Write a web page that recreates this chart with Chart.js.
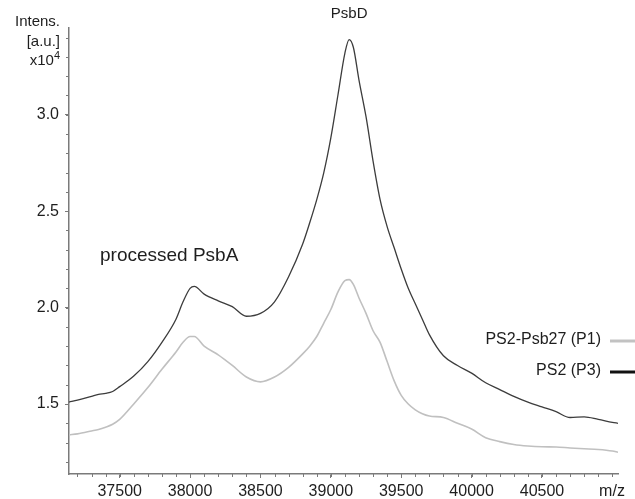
<!DOCTYPE html>
<html>
<head>
<meta charset="utf-8">
<script src="https://cdn.jsdelivr.net/npm/chart.js@4"></script>
<style>
html, body { margin:0; padding:0; background:#fff; }
canvas { display:block; }
</style>
</head>
<body>
<canvas id="spectrum" width="635" height="499"></canvas>
<script>

// m/z positions shared by both traces
let mzValues = [
37140, 37200, 37300, 37350, 37400, 37450, 37500, 37600, 37700, 37800,
37900, 37950, 38000, 38030, 38100, 38200, 38300, 38400, 38500, 38600,
38700, 38800, 38850, 38900, 38950, 39000, 39050, 39100, 39130, 39160,
39200, 39250, 39300, 39350, 39400, 39450, 39500, 39550, 39600, 39650,
39700, 39800, 39900, 40000, 40100, 40200, 40300, 40400, 40500, 40600,
40700, 40800, 40900, 41000, 41040
];

// PS2 (P3), dark trace, intensity x10^4
let ps2Values = [
1.51, 1.52, 1.54, 1.55, 1.555, 1.565, 1.59, 1.645, 1.72, 1.82,
1.94, 2.03, 2.10, 2.11, 2.07, 2.035, 2.005, 1.955, 1.97, 2.03,
2.16, 2.33, 2.44, 2.56, 2.70, 2.88, 3.10, 3.32, 3.39, 3.35,
3.18, 2.99, 2.76, 2.56, 2.42, 2.31, 2.20, 2.10, 2.02, 1.94,
1.86, 1.75, 1.70, 1.66, 1.61, 1.575, 1.54, 1.51, 1.485, 1.46,
1.43, 1.433, 1.42, 1.405, 1.40
];

// PS2-Psb27 (P1), light trace
let psb27Values = [
1.34, 1.345, 1.36, 1.368, 1.38, 1.395, 1.42, 1.50, 1.585, 1.68,
1.77, 1.82, 1.85, 1.85, 1.80, 1.755, 1.70, 1.64, 1.615, 1.64,
1.69, 1.76, 1.80, 1.85, 1.92, 1.99, 2.08, 2.14, 2.145, 2.12,
2.05, 1.97, 1.88, 1.82, 1.72, 1.62, 1.545, 1.50, 1.47, 1.45,
1.438, 1.43, 1.40, 1.37, 1.325, 1.305, 1.29, 1.282, 1.278, 1.277,
1.272, 1.268, 1.264, 1.256, 1.25
];

let xTickValues = [37500, 38000, 38500, 39000, 39500, 40000, 40500];
let yTickValues = [1.5, 2.0, 2.5, 3.0];

let seriesNames = ["PS2-Psb27 (P1)", "PS2 (P3)"];

let FONT = "'Liberation Sans', Arial, sans-serif";

function toPoints(values){

    let points = [];

    values.forEach((v, i) => {
        points.push({ x: mzValues[i], y: v });
    });

    return points;
}

// minor ticks, axis captions, labels and the right side legend
let decorPlugin = {

    id: "decor",

    afterDraw(chart){

        let ctx = chart.ctx;
        let xs = chart.scales.x;
        let ys = chart.scales.y;
        let area = chart.chartArea;

        ctx.save();

        // minor ticks
        ctx.strokeStyle = "#7a7a7a";
        ctx.lineWidth = 1;
        ctx.beginPath();

        for(let m = 37200; m <= 41000; m += 100){
            let px = Math.round(xs.getPixelForValue(m)) + 0.5;
            ctx.moveTo(px, area.bottom);
            ctx.lineTo(px, area.bottom + 3);
        }

        for(let k = 12; k <= 34; k++){
            let py = Math.round(ys.getPixelForValue(k / 10)) + 0.5;
            ctx.moveTo(area.left, py);
            ctx.lineTo(area.left - 3, py);
        }

        ctx.stroke();

        ctx.fillStyle = "#1e1e1e";
        ctx.textBaseline = "middle";

        // y axis caption
        ctx.font = "15px " + FONT;
        ctx.textAlign = "right";
        ctx.fillText("Intens.", 60, 22);
        ctx.fillText("[a.u.]", 60, 42);

        ctx.font = "11px " + FONT;
        ctx.fillText("4", 60, 56);
        let supW = ctx.measureText("4").width;
        ctx.font = "15px " + FONT;
        ctx.fillText("x10", 60 - supW, 61);

        // x axis caption
        ctx.font = "16px " + FONT;
        ctx.textAlign = "center";
        ctx.fillText("m/z", 612, 492);

        // peak labels
        ctx.font = "15px " + FONT;
        ctx.fillText("PsbD", xs.getPixelForValue(39130), 14);

        ctx.font = "19px " + FONT;
        ctx.textAlign = "left";
        ctx.fillText("processed PsbA", 100, 256);

        // legend
        let legendRows = [
            { y: 340, color: "#c2c2c2" },
            { y: 371, color: "#111111" }
        ];

        ctx.font = "16px " + FONT;
        ctx.textAlign = "right";

        legendRows.forEach((row, i) => {

            ctx.fillStyle = "#1e1e1e";
            ctx.fillText(seriesNames[i], 601, row.y);

            ctx.strokeStyle = row.color;
            ctx.lineWidth = 3;
            ctx.beginPath();
            ctx.moveTo(610, row.y + 1);
            ctx.lineTo(635, row.y + 1);
            ctx.stroke();

        });

        ctx.restore();
    }
};

new Chart(

document.getElementById("spectrum"),

{

    type:"line",

    data:{

        datasets:[

        {
            label: seriesNames[0],
            data: toPoints(psb27Values),
            borderColor: "#c0c0c0",
            borderWidth: 1.6,
            pointRadius: 0,
            cubicInterpolationMode: "monotone",
            fill: false
        },

        {
            label: seriesNames[1],
            data: toPoints(ps2Values),
            borderColor: "#3c3c3c",
            borderWidth: 1.3,
            pointRadius: 0,
            cubicInterpolationMode: "monotone",
            fill: false
        }

        ]

    },

    options:{

        responsive:false,
        devicePixelRatio:1,
        animation:false,

        layout:{
            padding:{ left:0, top:28, right:17, bottom:0 }
        },

        plugins:{
            legend:{ display:false },
            tooltip:{ enabled:false }
        },

        scales:{

            x:{
                type:"linear",
                min:37140,
                max:41040,
                afterFit(scale){ scale.height = 25; },
                afterBuildTicks(scale){
                    scale.ticks = xTickValues.map(v => ({ value: v }));
                },
                border:{ color:"#7a7a7a", width:1.5 },
                grid:{
                    drawOnChartArea:false,
                    tickLength:4,
                    tickColor:"#7a7a7a"
                },
                ticks:{
                    padding:4,
                    maxRotation:0,
                    color:"#1e1e1e",
                    font:{ family:FONT, size:16 },
                    callback: v => String(v)
                }
            },

            y:{
                type:"linear",
                min:1.137,
                max:3.45,
                afterFit(scale){ scale.width = 69; },
                afterBuildTicks(scale){
                    scale.ticks = yTickValues.map(v => ({ value: v }));
                },
                border:{ color:"#7a7a7a", width:1.5 },
                grid:{
                    drawOnChartArea:false,
                    tickLength:4,
                    tickColor:"#7a7a7a"
                },
                ticks:{
                    padding:6,
                    color:"#1e1e1e",
                    font:{ family:FONT, size:16 },
                    callback: v => v.toFixed(1)
                }
            }

        }

    },

    plugins:[decorPlugin]

});

</script>
</body>
</html>
